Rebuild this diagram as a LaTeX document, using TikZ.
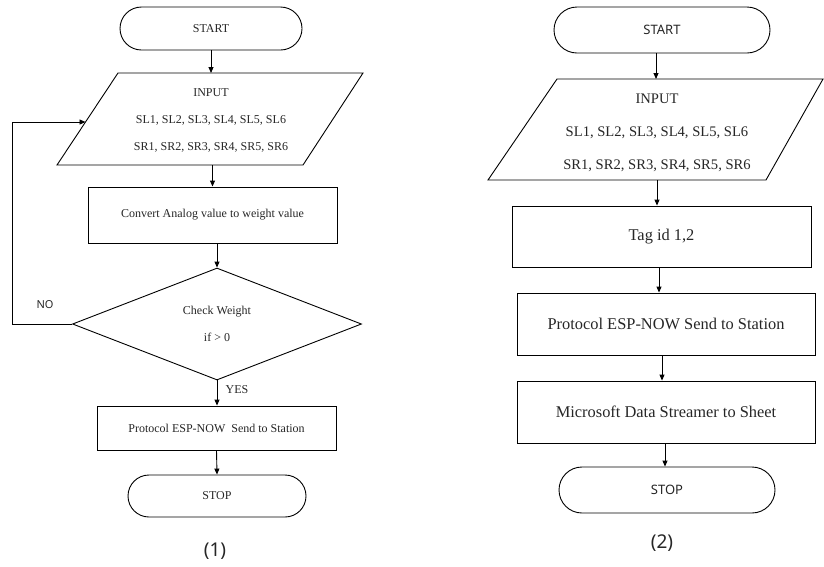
\documentclass[tikz,border=0pt]{standalone}
\usepackage{fontspec}
\setmainfont{Liberation Serif}
\newfontfamily\sansf{Noto Sans}
\usetikzlibrary{shapes.misc,shapes.geometric,arrows.meta}
\begin{document}
\begin{tikzpicture}[x=1pt,y=-1pt,
  line width=0.9pt,
  every node/.style={text=black!85},
  arr/.style={-{Triangle[length=6pt,width=5pt]}},
  term/.style={draw,rounded rectangle,inner sep=0pt},
  procbox/.style={draw,rectangle,inner sep=0pt},
  smallserif/.style={font=\fontsize{12}{27}\selectfont},
  bigserif/.style={font=\fontsize{16.4}{33}\selectfont},
]
\useasboundingbox (0,0) rectangle (824,566);

% ================= Chart (1) =================
\node[term,minimum width=182pt,minimum height=43pt,smallserif] (start1) at (211,28.5) {START};

\draw (118,73) coordinate (p1tl) -- (363,73) coordinate (p1tr) -- (303,165) coordinate (p1br) -- (57,165) coordinate (p1bl) -- cycle;
\coordinate (in1top) at (211,73);
\coordinate (in1bot) at (212.5,165);
\coordinate (in1left) at (85.5,122);
\node[smallserif,align=center] (in1) at (211,120) {INPUT\\SL1, SL2, SL3, SL4, SL5, SL6\\SR1, SR2, SR3, SR4, SR5, SR6};

\node[procbox,minimum width=249pt,minimum height=56pt,smallserif] (conv1) at (212.5,215) {Convert Analog value to weight value};

\node[draw,diamond,minimum width=289pt,minimum height=112pt,inner sep=0pt,smallserif,align=center] (dia1) at (217,324) {Check Weight\\if > 0};

\node[procbox,minimum width=239pt,minimum height=44pt,smallserif] (prot1) at (216.5,428) {Protocol ESP-NOW\ \ Send to Station};

\node[term,minimum width=178pt,minimum height=42pt,smallserif] (stop1) at (217,496) {STOP};

\coordinate (loopx) at (12,0);

\draw[arr] (start1.south) -- (start1.south |- in1top);
\draw[arr] (in1bot) -- (in1bot |- conv1.north);
\draw[arr] (dia1.north |- conv1.south) -- (dia1.north);
\draw[arr] (dia1.south) -- (dia1.south |- prot1.north);
\draw[arr] (prot1.south) -- (stop1.north);
\draw[arr] (dia1.west) -- (dia1.west -| loopx) |- (in1left);

\node[font=\sansf\fontsize{11}{13}\selectfont] (nolab) at (45,305) {NO};
\node[smallserif] (yeslab) at (237,390) {YES};
\node[font=\sansf\fontsize{19}{22}\selectfont] (cap1) at (215,551) {(1)};

% ================= Chart (2) =================
\node[term,minimum width=216pt,minimum height=46pt,font=\sansf\fontsize{13}{15}\selectfont] (start2) at (662,30) {START};

\draw (557,79) coordinate (p2tl) -- (823,79) coordinate (p2tr) -- (766,180) coordinate (p2br) -- (488,180) coordinate (p2bl) -- cycle;
\coordinate (in2top) at (656,79);
\coordinate (in2bot) at (657,180);
\node[font=\fontsize{14.6}{33}\selectfont,align=center] (in2) at (657,133) {INPUT\\SL1, SL2, SL3, SL4, SL5, SL6\\SR1, SR2, SR3, SR4, SR5, SR6};

\node[procbox,minimum width=299pt,minimum height=61pt,bigserif] (tag2) at (661.5,236.5) {Tag id 1,2};
\node[procbox,minimum width=298pt,minimum height=62pt,bigserif] (prot2) at (666,324) {Protocol ESP-NOW Send to Station};
\node[procbox,minimum width=298pt,minimum height=62pt,bigserif] (ms2) at (666,412) {Microsoft Data Streamer to Sheet};
\node[term,minimum width=216pt,minimum height=46pt,font=\sansf\fontsize{13}{15}\selectfont] (stop2) at (667,490) {STOP};

\draw[arr] (start2.south -| in2top) -- (in2top);
\draw[arr] (in2bot) -- (in2bot |- tag2.north);
\coordinate (a3) at (659,0);
\draw[arr] (a3 |- tag2.south) -- (a3 |- prot2.north);
\coordinate (a4) at (662,0);
\draw[arr] (a4 |- prot2.south) -- (a4 |- ms2.north);
\coordinate (a5) at (665,0);
\draw[arr] (a5 |- ms2.south) -- (a5 |- stop2.north);

\node[font=\sansf\fontsize{19}{22}\selectfont] (cap2) at (662,543) {(2)};
\end{tikzpicture}
\end{document}
